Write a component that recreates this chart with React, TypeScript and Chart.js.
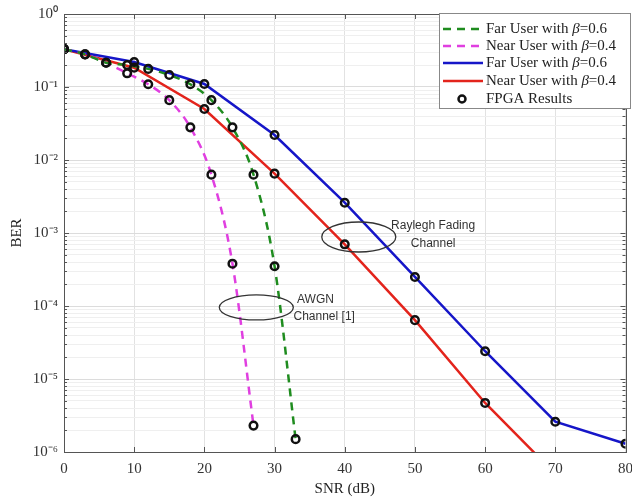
import React, { useEffect, useRef } from 'react';
import { Chart, registerables } from 'chart.js';
Chart.register(...registerables);

// ---- data ----
const snrFarAwgn = [0, 3, 6, 9, 12, 15, 18, 21, 24, 27, 30, 33];
const berFarAwgn = [0.33, 0.28, 0.215, 0.2, 0.177, 0.146, 0.109, 0.066, 0.028, 0.0063, 3.5e-4, 1.5e-6];
const snrNearAwgn = [0, 3, 6, 9, 12, 15, 18, 21, 24, 27];
const berNearAwgn = [0.33, 0.28, 0.215, 0.154, 0.109, 0.066, 0.028, 0.0063, 3.8e-4, 2.3e-6];
const snrRayleigh = [0, 10, 20, 30, 40, 50, 60, 70, 80];
const berFarRayleigh = [0.33, 0.22, 0.11, 0.022, 0.0026, 2.5e-4, 2.4e-5, 2.6e-6, 1.3e-6];
const berNearRayleigh = [0.33, 0.184, 0.05, 0.0065, 7e-4, 6.4e-5, 4.7e-6, 5e-7];
const xTicks = [0, 10, 20, 30, 40, 50, 60, 70, 80];
const yDecades = [-6, -5, -4, -3, -2, -1, 0];

const seriesNames = [
  'Far User with ',
  'Near User with ',
  'Far User with ',
  'Near User with ',
];
const betaValues = ['=0.6', '=0.4', '=0.6', '=0.4'];
const fpgaLabel = 'FPGA Results';
const awgnText = ['AWGN', 'Channel [1]'];
const rayText = ['Raylegh Fading', 'Channel'];

const GREEN = '#1f8c1f';
const MAGENTA = '#e03fe0';
const BLUE = '#1616c8';
const RED = '#e3241c';
const SERIF = '"Liberation Serif", "Times New Roman", serif';
const SANS = '"Liberation Sans", Arial, sans-serif';

const sup: Record<string, string> = {
  '0': '\u2070', '1': '\u00b9', '2': '\u00b2', '3': '\u00b3', '4': '\u2074',
  '5': '\u2075', '6': '\u2076', '7': '\u2077', '8': '\u2078', '9': '\u2079', '-': '\u207b',
};

const yTickValues: number[] = [];
yDecades.forEach((e) => {
  for (let m = 1; m <= 9; m++) {
    const v = m * Math.pow(10, e);
    if (v <= 1.0000001) yTickValues.push(v);
  }
});
const isMajor = (v: number) => Math.abs(Math.log10(v) - Math.round(Math.log10(v))) < 1e-6;

const pts = (xs: number[], ys: number[]) => ys.map((y, i) => ({ x: xs[i], y }));

const decorPlugin = {
  id: 'decor',
  afterDraw(chart: any) {
    const { ctx, chartArea: a, scales } = chart;
    const xs = scales.x;
    const ys = scales.y;
    ctx.save();
    // box
    ctx.strokeStyle = '#555';
    ctx.lineWidth = 1;
    ctx.strokeRect(Math.round(a.left) + 0.5, Math.round(a.top) + 0.5, Math.round(a.right - a.left), Math.round(a.bottom - a.top));
    // inward ticks
    ctx.beginPath();
    yTickValues.forEach((v) => {
      const p = Math.round(ys.getPixelForValue(v)) + 0.5;
      const len = isMajor(v) ? 5 : 3;
      ctx.moveTo(a.left, p); ctx.lineTo(a.left + len, p);
      ctx.moveTo(a.right, p); ctx.lineTo(a.right - len, p);
    });
    xTicks.forEach((v) => {
      const p = Math.round(xs.getPixelForValue(v)) + 0.5;
      ctx.moveTo(p, a.bottom); ctx.lineTo(p, a.bottom - 5);
      ctx.moveTo(p, a.top); ctx.lineTo(p, a.top + 5);
    });
    ctx.stroke();

    // annotations
    ctx.strokeStyle = '#333';
    ctx.lineWidth = 1.3;
    const ell = (x: number, y: number, rx: number, ry: number) => {
      ctx.beginPath();
      ctx.ellipse(xs.getPixelForValue(x), ys.getPixelForValue(y), rx, ry, 0, 0, Math.PI * 2);
      ctx.stroke();
    };
    ell(42.0, Math.pow(10, -3.055), 37, 15);
    ell(27.4, Math.pow(10, -4.02), 37, 12.5);
    ctx.fillStyle = '#333';
    ctx.font = `12px ${SANS}`;
    ctx.textBaseline = 'middle';
    ctx.textAlign = 'left';
    ctx.fillText(rayText[0], xs.getPixelForValue(46.6), ys.getPixelForValue(Math.pow(10, -2.9)));
    ctx.textAlign = 'center';
    ctx.fillText(rayText[1], xs.getPixelForValue(52.6), ys.getPixelForValue(Math.pow(10, -3.14)));
    ctx.textAlign = 'left';
    ctx.fillText(awgnText[0], xs.getPixelForValue(33.2), ys.getPixelForValue(Math.pow(10, -3.92)));
    ctx.fillText(awgnText[1], xs.getPixelForValue(32.7), ys.getPixelForValue(Math.pow(10, -4.15)));

    // legend
    const lx = 439, ly = 13, lw = 192, lh = 96;
    ctx.fillStyle = '#fff';
    ctx.fillRect(lx, ly, lw, lh);
    ctx.strokeStyle = '#888';
    ctx.lineWidth = 1;
    ctx.strokeRect(lx + 0.5, ly + 0.5, lw - 1, lh - 1);
    const colors = [GREEN, MAGENTA, BLUE, RED];
    const dashed = [true, true, false, false];
    const rowY = [29, 46, 63, 81];
    rowY.forEach((yy, i) => {
      ctx.strokeStyle = colors[i];
      ctx.lineWidth = 2.5;
      ctx.setLineDash(dashed[i] ? [8, 6] : []);
      ctx.beginPath();
      ctx.moveTo(443, yy);
      ctx.lineTo(483, yy);
      ctx.stroke();
      ctx.setLineDash([]);
      ctx.fillStyle = '#222';
      ctx.textAlign = 'left';
      ctx.textBaseline = 'middle';
      ctx.font = `15px ${SERIF}`;
      let tx = 486;
      ctx.fillText(seriesNames[i], tx, yy);
      tx += ctx.measureText(seriesNames[i]).width;
      ctx.font = `italic 15px ${SERIF}`;
      ctx.fillText('\u03b2', tx, yy);
      tx += ctx.measureText('\u03b2').width;
      ctx.font = `15px ${SERIF}`;
      ctx.fillText(betaValues[i], tx, yy);
    });
    ctx.strokeStyle = '#111';
    ctx.lineWidth = 2.5;
    ctx.beginPath();
    ctx.arc(462, 99, 3.5, 0, Math.PI * 2);
    ctx.stroke();
    ctx.fillStyle = '#222';
    ctx.font = `15px ${SERIF}`;
    ctx.fillText(fpgaLabel, 486, 99);
    ctx.restore();
  },
};

export default function App() {
  const ref = useRef<HTMLCanvasElement>(null);
  useEffect(() => {
    document.body.style.margin = '0';
    const lineDs = (label: string, data: any[], color: string, dash: number[], smooth: boolean) => ({
      label,
      data,
      borderColor: color,
      backgroundColor: color,
      borderWidth: 2.5,
      borderDash: dash,
      pointRadius: 0,
      tension: 0,
      cubicInterpolationMode: smooth ? ('monotone' as const) : ('default' as const),
      fill: false,
      order: 1,
    });
    const fpga = [
      ...pts(snrFarAwgn, berFarAwgn),
      ...pts(snrNearAwgn, berNearAwgn),
      ...pts(snrRayleigh, berFarRayleigh),
      ...pts(snrRayleigh, berNearRayleigh),
    ];
    const chart = new Chart(ref.current as HTMLCanvasElement, {
      type: 'line',
      data: {
        datasets: [
          lineDs('Far AWGN', pts(snrFarAwgn, berFarAwgn), GREEN, [8, 6], true),
          lineDs('Near AWGN', pts(snrNearAwgn, berNearAwgn), MAGENTA, [8, 6], true),
          lineDs('Far Rayleigh', pts(snrRayleigh, berFarRayleigh), BLUE, [], false),
          lineDs('Near Rayleigh', pts(snrRayleigh, berNearRayleigh), RED, [], false),
          {
            label: fpgaLabel,
            data: fpga,
            showLine: false,
            pointRadius: 3.8,
            pointBorderWidth: 2.5,
            pointBorderColor: '#111',
            pointBackgroundColor: 'rgba(0,0,0,0)',
            borderColor: '#111',
            order: 0,
          } as any,
        ],
      },
      options: {
        animation: false,
        responsive: true,
        maintainAspectRatio: false,
        layout: { padding: { top: 14, right: 4, left: 0, bottom: 0 } },
        plugins: { legend: { display: false }, tooltip: { enabled: false } },
        scales: {
          x: {
            type: 'linear',
            min: 0,
            max: 80,
            ticks: {
              stepSize: 10,
              font: { family: SERIF, size: 15 },
              color: '#333',
              padding: 8,
              maxRotation: 0,
            },
            grid: { color: '#e2e2e2', drawTicks: false },
            border: { color: '#555' },
            title: {
              display: true,
              text: 'SNR (dB)',
              font: { family: SERIF, size: 15 },
              color: '#222',
              padding: { top: 0, bottom: 0 },
            },
            afterFit: (s: any) => {
              s.height = 46;
              s.paddingLeft = 0;
              s.paddingRight = 0;
            },
          },
          y: {
            type: 'logarithmic',
            min: 1e-6,
            max: 1,
            afterBuildTicks: (s: any) => {
              s.ticks = yTickValues.map((v) => ({ value: v }));
            },
            ticks: {
              autoSkip: false,
              padding: 6,
              font: { family: SERIF, size: 15 },
              color: '#333',
              callback: (v: any) => {
                const n = Number(v);
                if (!isMajor(n)) return '';
                const e = String(Math.round(Math.log10(n)));
                return '10' + e.split('').map((c) => sup[c]).join('');
              },
            },
            grid: {
              color: (c: any) => (c.tick && isMajor(c.tick.value) ? '#dcdcdc' : '#efefef'),
              drawTicks: false,
            },
            border: { color: '#555' },
            title: {
              display: true,
              text: 'BER',
              font: { family: SERIF, size: 15 },
              color: '#222',
              padding: { top: 8, bottom: 0 },
            },
            afterFit: (s: any) => {
              s.width = 64;
              s.paddingTop = 0;
              s.paddingBottom = 0;
            },
          },
        },
      } as any,
      plugins: [decorPlugin],
    });
    return () => chart.destroy();
  }, []);
  return (
    <div style={{ width: 632, height: 498, position: 'relative' }}>
      <canvas ref={ref} />
    </div>
  );
}
